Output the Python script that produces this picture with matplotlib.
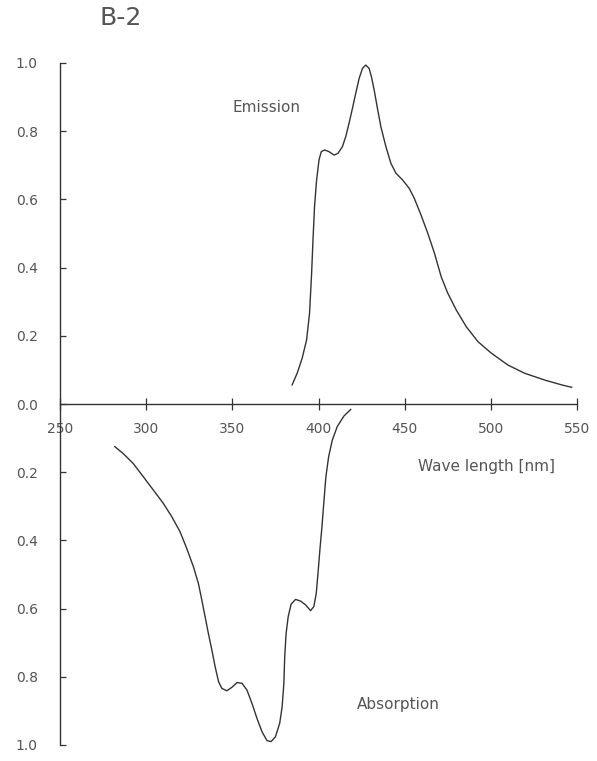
import matplotlib
matplotlib.use("Agg")
import matplotlib.pyplot as plt
import numpy as np

# emission spectrum
em_wl = [384.7, 387.6, 390.5, 393.1, 394.8, 396.0, 396.8, 397.7, 398.9, 400.3,
         401.6, 403.6, 406.1, 409.0, 411.3, 413.9, 415.8, 417.7, 419.7, 421.6,
         423.6, 425.5, 427.4, 429.4, 430.7, 432.3, 434.2, 436.2, 439.1, 442.0,
         444.9, 448.8, 452.7, 455.6, 459.5, 463.4, 467.3, 471.2, 475.0, 479.9,
         485.7, 492.5, 500.3, 510.0, 519.7, 531.4, 541.1, 546.9]
em_val = [0.056, 0.090, 0.134, 0.188, 0.266, 0.383, 0.481, 0.579, 0.657, 0.716,
          0.740, 0.745, 0.740, 0.730, 0.735, 0.755, 0.784, 0.823, 0.867, 0.911,
          0.955, 0.984, 0.994, 0.984, 0.960, 0.921, 0.867, 0.813, 0.755, 0.706,
          0.677, 0.657, 0.632, 0.603, 0.554, 0.501, 0.442, 0.373, 0.325, 0.276,
          0.227, 0.183, 0.149, 0.114, 0.090, 0.070, 0.056, 0.049]

# absorption spectrum (drawn downward)
ab_wl = [281.8, 286.6, 292.4, 298.3, 304.1, 309.9, 314.8, 319.6, 323.5, 327.4,
         330.3, 332.3, 334.2, 336.1, 338.1, 340.0, 342.0, 343.9, 346.8, 349.7,
         352.7, 355.6, 358.5, 361.4, 364.3, 367.2, 370.1, 372.5, 375.0, 377.5,
         378.9, 379.9, 380.4, 381.2, 382.4, 384.1, 386.7, 389.6, 392.5, 395.4,
         397.3, 398.7, 399.7, 400.8, 402.0, 403.2, 404.3, 405.9, 408.0, 410.9,
         414.8, 418.7]
ab_val = [0.125, 0.145, 0.174, 0.213, 0.252, 0.291, 0.330, 0.374, 0.423, 0.477,
          0.526, 0.575, 0.624, 0.673, 0.721, 0.770, 0.814, 0.834, 0.841, 0.831,
          0.817, 0.819, 0.839, 0.878, 0.922, 0.961, 0.987, 0.990, 0.976, 0.936,
          0.888, 0.819, 0.741, 0.673, 0.624, 0.587, 0.573, 0.578, 0.589, 0.606,
          0.594, 0.555, 0.497, 0.428, 0.360, 0.282, 0.213, 0.154, 0.106, 0.066,
          0.035, 0.016]

x_ticks = [250, 300, 350, 400, 450, 500, 550]
y_ticks = [-1.0, -0.8, -0.6, -0.4, -0.2, 0.0, 0.2, 0.4, 0.6, 0.8, 1.0]

ink = "#333333"
txt = "#555555"

fig = plt.figure(figsize=(5.97, 7.61), dpi=100)
ax = fig.add_axes([60 / 597, 1 - 745 / 761, 517 / 597, 682 / 761])

ax.plot(em_wl, em_val, color=ink, lw=1.0, solid_joinstyle="round")
ax.plot(ab_wl, -np.array(ab_val), color=ink, lw=1.0, solid_joinstyle="round")

ax.set_xlim(250, 550)
ax.set_ylim(-1.0, 1.0)

for s in ["top", "right"]:
    ax.spines[s].set_visible(False)
ax.spines["bottom"].set_position(("data", 0))
for s in ["left", "bottom"]:
    ax.spines[s].set_color(ink)
    ax.spines[s].set_linewidth(1.0)

ax.set_xticks(x_ticks)
ax.set_xticklabels([str(v) for v in x_ticks])
ax.set_yticks(y_ticks)
ax.set_yticklabels(["%.1f" % abs(v) for v in y_ticks])

ax.tick_params(axis="x", direction="inout", length=8, width=0.9, color=ink,
               labelsize=10, labelcolor=txt, pad=9)
ax.tick_params(axis="y", direction="in", length=4, width=0.9, color=ink,
               labelsize=10, labelcolor=txt, pad=16)

fig.text(121 / 597, 1 - 18 / 761, "B-2", fontsize=18, color=txt,
         ha="center", va="center")
fig.text(266 / 597, 1 - 107 / 761, "Emission", fontsize=11, color=txt,
         ha="center", va="center")
fig.text(487 / 597, 1 - 467 / 761, "Wave length [nm]", fontsize=11, color=txt,
         ha="center", va="center")
fig.text(398 / 597, 1 - 705 / 761, "Absorption", fontsize=11, color=txt,
         ha="center", va="center")

fig.savefig("out.png", dpi=100)
